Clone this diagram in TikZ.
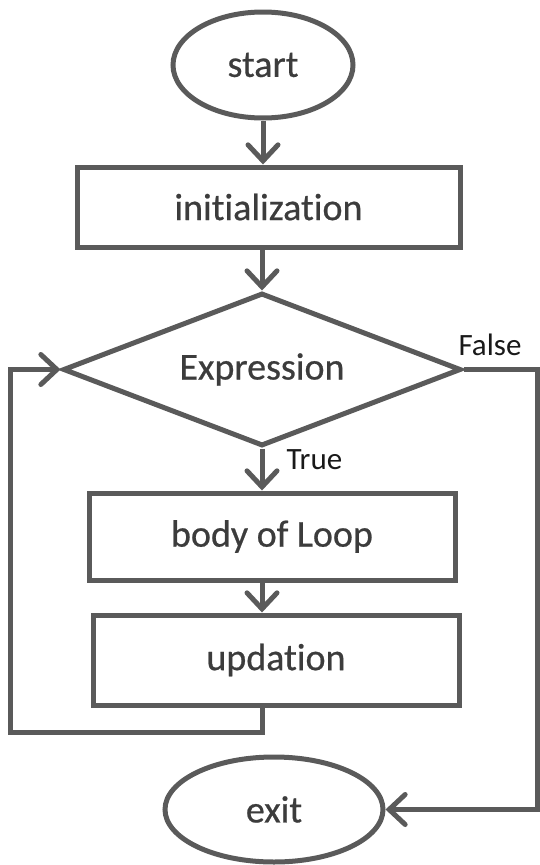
\documentclass[tikz,border=0pt]{standalone}
\usepackage{fontspec}
\setmainfont{Carlito}[Ligatures=CommonOff]
\newfontfamily\nodefont{Carlito}[Ligatures=CommonOff, FakeBold=0.6]
\usepackage{tikz}
\usetikzlibrary{shapes.geometric, arrows.meta, positioning, calc}
\definecolor{linegray}{HTML}{5A5A5A}
\definecolor{textgray}{HTML}{3C3C3C}

\begin{document}
\begin{tikzpicture}[
	x=1pt, y=-1pt,
	node distance=40pt,
	every node/.style={font=\nodefont\fontsize{38}{44}\selectfont, text=textgray},
	terminal/.style={ellipse, draw=linegray, line width=5pt, inner sep=0pt},
	process/.style={rectangle, draw=linegray, line width=5pt, inner sep=0pt},
	decision/.style={diamond, draw=linegray, line width=5pt, inner sep=0pt, aspect=2.6, minimum width=398pt, minimum height=153pt},
	lbl/.style={font=\fontsize{31}{36}\selectfont, text=black!90},
	arrow/.style={draw=linegray, line width=5pt, -{Straight Barb[length=16pt, width=30pt, line cap=round]}}
]
\useasboundingbox (0,0) rectangle (539,865);

% Flow of the loop
\node[terminal, minimum width=180pt, minimum height=106pt] (start) at (263,65) {start};
\node[process, minimum width=383pt, minimum height=80pt, below=44pt of start, xshift=5.5pt] (init) {initialization};
\node[decision, below=41pt of init, xshift=-6.5pt] (expr) {Expression};
\node[process, minimum width=366pt, minimum height=87pt, below=42pt of expr, xshift=10pt] (body) {body of Loop};
\node[process, minimum width=366pt, minimum height=90pt, below=30pt of body, xshift=4pt] (upd) {updation};
\node[terminal, minimum width=218pt, minimum height=105pt, below=47pt of upd, xshift=-2pt] (exit) {exit};

% Corners of the two side paths
\coordinate (loopcorner) at (10,732);
\coordinate (falsex) at (537,0);

% Arrows
\draw[arrow] (start) -- (start |- init.north);
\draw[arrow] (init.south -| expr.north) -- (expr.north);
\draw[arrow] (expr.south) -- (expr.south |- body.north);
\draw[arrow] (expr.south |- body.south) -- (expr.south |- upd.north);
\draw[arrow] (expr.south |- upd.south) |- (loopcorner) |- (expr.west);
\draw[arrow] (expr.east) -| (falsex |- exit.east) -- (exit.east);

% Branch labels
\node[lbl, anchor=base west] (falselbl) at (455,355) {False};
\node[lbl, anchor=base west] (truelbl) at (283,469) {True};

\end{tikzpicture}
\end{document}
